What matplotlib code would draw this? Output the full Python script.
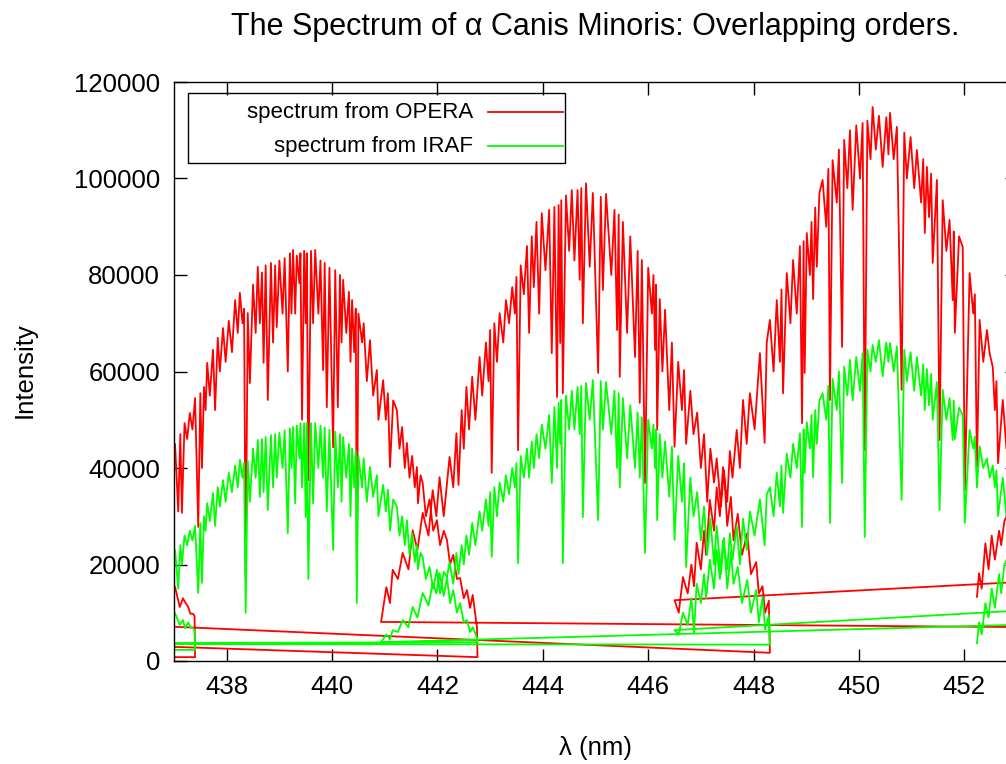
import numpy as np
import matplotlib
matplotlib.use('Agg')
import matplotlib.pyplot as plt
from matplotlib.patches import Rectangle
from matplotlib.lines import Line2D

plt.rcParams['font.family'] = ['Liberation Sans', 'DejaVu Sans']

# Echelle orders of alpha CMi, one row per sample:
#   wavelength (nm), OPERA intensity, IRAF intensity
# rows alternate continuum tops and absorption line cores.
# Orders are listed in file order (red to blue), so the plot joins
# the end of one order to the start of the next one.
order5 = np.array([
    (452.24, 13300, 3700), (452.28, 18200, 8000), (452.33, 15000, 5500),
    (452.40, 24400, 12000), (452.46, 19000, 9000), (452.52, 26000, 15000),
    (452.58, 21000, 11000), (452.66, 27000, 18000), (452.70, 24000, 14000),
    (452.76, 29000, 20000), (452.85, 31000, 22000), (453.60, 16700, 10800),
])

order4 = np.array([
    (446.50, 12600, 6400), (446.58, 10000, 5500), (446.66, 17400, 10000),
    (446.75, 14000, 7500), (446.82, 20000, 13000), (446.87, 15500, 6000),
    (446.92, 24500, 16000), (447.00, 19000, 12000), (447.06, 27000, 18000),
    (447.10, 22000, 13000), (447.17, 33400, 21000), (447.25, 27000, 15000),
    (447.30, 36000, 23000), (447.36, 30000, 17000), (447.42, 40200, 25000),
    (447.50, 33000, 19000), (447.55, 43500, 26500), (447.60, 38000, 21000),
    (447.68, 47900, 28000), (447.74, 40000, 20000), (447.80, 54100, 29500),
    (447.87, 45000, 23000), (447.93, 55500, 31000), (448.02, 48000, 26000),
    (448.12, 63800, 33500), (448.21, 45200, 24000), (448.25, 66000, 34500),
    (448.31, 70700, 36000), (448.38, 60000, 30000), (448.44, 74800, 39000),
    (448.50, 62000, 32000), (448.53, 77000, 40500), (448.56, 55500, 30700),
    (448.63, 80400, 43000), (448.70, 70000, 38000), (448.75, 83100, 45000),
    (448.82, 72000, 40000), (448.88, 86000, 47200), (448.92, 49300, 27800),
    (448.95, 87000, 48000), (448.97, 59700, 39000), (449.01, 88700, 49500),
    (449.07, 80000, 44000), (449.10, 91000, 51000), (449.13, 75000, 38100),
    (449.17, 94000, 52000), (449.20, 81700, 45000), (449.25, 97000, 54000),
    (449.31, 99700, 55500), (449.38, 90000, 50000), (449.42, 102000, 57000),
    (449.45, 54100, 28600), (449.50, 103800, 58500), (449.58, 95000, 52000),
    (449.62, 106000, 60000), (449.68, 65100, 36900), (449.72, 108000, 61000),
    (449.78, 98000, 55000), (449.83, 110000, 62400), (449.88, 93500, 54000),
    (449.95, 111000, 63000), (450.02, 100000, 56000), (450.07, 111500, 63800),
    (450.11, 43700, 25700), (450.16, 112000, 64500), (450.22, 104000, 60000),
    (450.26, 114800, 65500), (450.32, 106000, 62000), (450.38, 113000, 66500),
    (450.45, 102400, 59000), (450.52, 112700, 66000), (450.56, 105000, 62000),
    (450.59, 113600, 65900), (450.66, 104000, 60000), (450.72, 110700, 65200),
    (450.81, 56200, 33400), (450.86, 109500, 64500), (450.91, 100000, 58000),
    (450.98, 108600, 64000), (451.05, 98000, 56000), (451.10, 105900, 63000),
    (451.18, 95000, 55000), (451.22, 104000, 61500), (451.25, 88700, 52000),
    (451.29, 102400, 60500), (451.33, 92000, 53000), (451.37, 101000, 59500),
    (451.40, 82500, 50000), (451.48, 99700, 57800), (451.53, 45800, 31300),
    (451.59, 95500, 56200), (451.66, 85000, 50000), (451.72, 91400, 54500),
    (451.78, 74800, 45800), (451.80, 89000, 54000), (451.82, 68000, 46000),
    (451.90, 88000, 52500), (451.97, 85800, 51000), (452.01, 35400, 28600),
    (452.10, 80400, 47900), (452.17, 72000, 44000), (452.20, 76000, 46500),
    (452.24, 40200, 36000), (452.29, 70700, 44500), (452.36, 62000, 40000),
    (452.43, 68600, 42000), (452.48, 63800, 38000), (452.54, 60900, 40500),
    (452.58, 52000, 36000), (452.61, 58000, 39500), (452.64, 41000, 30000),
    (452.73, 54100, 38000), (452.80, 44000, 30000), (452.90, 46000, 34000),
    (452.95, 35000, 25000), (453.05, 36000, 28000), (453.12, 22000, 15000),
    (453.20, 20000, 18000), (453.30, 7000, 7600),
])

order3 = np.array([
    (440.93, 8100, 3900), (441.03, 15300, 5500), (441.10, 12000, 4500),
    (441.15, 18900, 6400), (441.25, 17000, 6000), (441.34, 22400, 8500),
    (441.45, 19000, 7000), (441.53, 27100, 11200), (441.62, 23000, 9000),
    (441.72, 30700, 14100), (441.83, 26000, 11500), (441.91, 35400, 16200),
    (441.98, 30000, 14000), (442.04, 38100, 18200), (442.12, 30000, 13500),
    (442.23, 42300, 20500), (442.30, 36000, 16000), (442.36, 47200, 22400),
    (442.40, 36500, 18000), (442.46, 52000, 24000), (442.50, 44000, 20000),
    (442.55, 56800, 26000), (442.60, 48000, 22000), (442.66, 58900, 28600),
    (442.72, 50000, 24000), (442.80, 63000, 31000), (442.85, 55000, 27000),
    (442.92, 66000, 33500), (442.97, 58000, 28000), (443.00, 68600, 35000),
    (443.03, 39000, 21600), (443.08, 70000, 36000), (443.13, 62000, 30000),
    (443.18, 72100, 37000), (443.25, 66000, 33000), (443.30, 74800, 38500),
    (443.36, 70000, 34500), (443.42, 77500, 40000), (443.47, 72000, 36000),
    (443.50, 79600, 41000), (443.53, 43700, 20300), (443.58, 82000, 42500),
    (443.64, 76000, 38000), (443.70, 86000, 44000), (443.74, 68000, 38000),
    (443.79, 88000, 45500), (443.83, 77500, 40000), (443.88, 91000, 47000),
    (443.93, 72000, 42000), (443.98, 92800, 49000), (444.05, 81000, 44000),
    (444.12, 93500, 51000), (444.17, 63800, 36900), (444.22, 94100, 52600),
    (444.27, 54700, 40000), (444.30, 94500, 53500), (444.33, 65900, 45000),
    (444.35, 95500, 54100), (444.38, 55500, 20300), (444.44, 96500, 55000),
    (444.50, 85000, 48000), (444.55, 97600, 56000), (444.60, 83000, 48000),
    (444.66, 97600, 56800), (444.70, 79000, 47000), (444.73, 98000, 57000),
    (444.76, 70000, 29800), (444.82, 99000, 57600), (444.89, 81700, 50000),
    (444.95, 97000, 58200), (445.05, 59700, 29200), (445.10, 96200, 58000),
    (445.14, 76900, 48000), (445.20, 96800, 57800), (445.30, 80000, 47000),
    (445.36, 93500, 56000), (445.41, 68600, 40000), (445.44, 92500, 55500),
    (445.46, 58900, 36000), (445.52, 91000, 54500), (445.60, 68000, 42000),
    (445.66, 88000, 53000), (445.75, 63000, 40000), (445.80, 85000, 51500),
    (445.84, 53500, 38000), (445.88, 83100, 50500), (445.94, 36900, 22400),
    (446.00, 81500, 50000), (446.07, 72000, 44000), (446.10, 80000, 49000),
    (446.13, 64500, 40000), (446.15, 78000, 48000), (446.17, 47900, 29200),
    (446.22, 75000, 47000), (446.27, 60000, 38000), (446.32, 72800, 45500),
    (446.40, 52000, 34000), (446.45, 66000, 44400), (446.50, 44400, 25100),
    (446.57, 62000, 42500), (446.64, 52000, 33000), (446.68, 60300, 41000),
    (446.72, 45000, 19500), (446.80, 56000, 38000), (446.86, 47000, 30000),
    (446.93, 51500, 35000), (447.00, 40000, 25000), (447.06, 47000, 32000),
    (447.12, 33000, 22000), (447.18, 44000, 29500), (447.25, 37000, 20000),
    (447.30, 42000, 28000), (447.38, 32000, 18000), (447.44, 39500, 25500),
    (447.50, 28000, 15000), (447.57, 34000, 22500), (447.62, 25000, 16000),
    (447.70, 30500, 19500), (447.78, 22000, 12000), (447.88, 26500, 16800),
    (447.95, 18000, 10000), (448.05, 20500, 14700), (448.10, 14000, 8000),
    (448.17, 15500, 13300), (448.22, 10000, 6500), (448.29, 12500, 9500),
    (448.31, 1700, 3400),
])

order2 = np.array([
    (436.58, 7300, 3500), (436.80, 30000, 14000), (436.95, 42000, 20000),
    (437.02, 45000, 23000), (437.08, 31000, 15000), (437.12, 47000, 24000),
    (437.15, 30700, 20000), (437.20, 49300, 26000), (437.25, 46000, 24000),
    (437.30, 51400, 27000), (437.35, 48000, 25000), (437.40, 54500, 28000),
    (437.46, 27800, 14100), (437.50, 55500, 28600), (437.53, 40000, 16200),
    (437.57, 56800, 30000), (437.60, 52000, 27000), (437.63, 61800, 32700),
    (437.68, 55000, 29000), (437.74, 64500, 34800), (437.78, 52000, 28000),
    (437.83, 67000, 36000), (437.87, 60000, 32000), (437.93, 69000, 37500),
    (437.98, 62000, 33000), (438.04, 70500, 39000), (438.10, 64000, 35000),
    (438.16, 74800, 40500), (438.21, 68000, 36000), (438.25, 76300, 41700),
    (438.30, 70000, 38000), (438.33, 73000, 41000), (438.36, 17200, 10000),
    (438.40, 72100, 41500), (438.44, 57600, 33000), (438.50, 78000, 44000),
    (438.55, 68000, 38000), (438.59, 81700, 45800), (438.63, 70000, 34000),
    (438.67, 80500, 46000), (438.70, 61800, 35000), (438.74, 82000, 46400),
    (438.78, 54100, 31300), (438.84, 82500, 46800), (438.88, 66000, 36000),
    (438.92, 82000, 47000), (438.95, 69200, 38000), (439.00, 83000, 47300),
    (439.06, 72000, 40000), (439.10, 83500, 47800), (439.16, 60000, 26500),
    (439.20, 84500, 48200), (439.23, 72000, 40000), (439.26, 85200, 48500),
    (439.30, 72000, 32700), (439.33, 84000, 48800), (439.38, 78300, 42000),
    (439.40, 84500, 49300), (439.43, 50000, 36000), (439.47, 85000, 49300),
    (439.50, 70000, 29800), (439.52, 84500, 49300), (439.55, 37500, 17000),
    (439.60, 85000, 49300), (439.64, 70000, 32700), (439.68, 85200, 49300),
    (439.74, 72000, 40000), (439.78, 83000, 48800), (439.83, 60300, 38000),
    (439.86, 82500, 48400), (439.90, 52600, 31000), (439.95, 81500, 47900),
    (440.02, 44300, 23000), (440.06, 81000, 47500), (440.11, 52600, 36000),
    (440.15, 80000, 47000), (440.18, 66000, 33000), (440.21, 79000, 46400),
    (440.27, 68000, 38000), (440.32, 76500, 45000), (440.35, 62000, 30000),
    (440.38, 74800, 44000), (440.42, 64000, 36000), (440.45, 73000, 43500),
    (440.47, 17400, 12000), (440.50, 72000, 42500), (440.57, 66000, 36000),
    (440.60, 70000, 42000), (440.66, 58000, 33000), (440.72, 66500, 40200),
    (440.78, 55000, 34000), (440.85, 60300, 38500), (440.88, 50000, 30000),
    (440.97, 58200, 36500), (441.02, 50000, 31000), (441.06, 55500, 35500),
    (441.10, 40200, 27000), (441.16, 54000, 33500), (441.23, 52000, 32000),
    (441.28, 44000, 26000), (441.33, 48500, 30000), (441.38, 40000, 24000),
    (441.42, 45200, 29200), (441.47, 38000, 22000), (441.52, 42500, 26500),
    (441.57, 36000, 20500), (441.61, 40200, 24000), (441.63, 32700, 19000),
    (441.68, 38500, 22400), (441.72, 36900, 21500), (441.78, 30000, 17000),
    (441.85, 33500, 19500), (441.92, 27000, 15000), (441.99, 29200, 18900),
    (442.05, 24000, 14000), (442.12, 27000, 18500), (442.18, 25100, 17400),
    (442.24, 20000, 12000), (442.30, 22000, 14700), (442.37, 17000, 10000),
    (442.43, 17200, 12000), (442.50, 13000, 8000), (442.56, 14700, 8500),
    (442.62, 11000, 6000), (442.67, 13700, 7000), (442.75, 7000, 4800),
    (442.76, 800, 3900),
])

order1 = np.array([
    (436.00, 3300, 3700), (436.50, 25000, 14000), (436.80, 19000, 11500),
    (437.02, 15300, 9900), (437.11, 11200, 7500), (437.17, 13000, 8500),
    (437.21, 12200, 6800), (437.27, 11200, 8000), (437.31, 9800, 7000),
    (437.36, 9800, 6800), (437.39, 9300, 6400), (437.40, 800, 2300),
])

order0 = np.array([
    (436.00, 800, 2300),
])

spectrum = np.vstack([order5, order4, order3, order2, order1, order0])
wavelength = spectrum[:, 0]
opera = spectrum[:, 1]
iraf = spectrum[:, 2]

fig = plt.figure(figsize=(10.06, 7.64), dpi=100)
ax = fig.add_axes([174 / 1006, 103 / 764, 843 / 1006, 579 / 764])

ax.plot(wavelength, opera, color='#ff0000', lw=1.3)
ax.plot(wavelength, iraf, color='#00ff00', lw=1.3)

ax.set_xlim(437, 453)
ax.set_ylim(0, 120000)
ax.set_xticks(np.arange(438, 453, 2))
ax.set_yticks(np.arange(0, 120001, 20000))
ax.tick_params(direction='in', length=9, width=1, top=True, right=True,
               labelsize=18.5, pad=10)
for s in ax.spines.values():
    s.set_linewidth(1.0)

# axis titles placed in figure pixels, centred like gnuplot does
fig.text(595.5 / 1006, 1 - 748 / 764, 'λ (nm)', ha='center', va='center',
         fontsize=18.5)
fig.text(25 / 1006, 1 - 370 / 764, 'Intensity', ha='center', va='center',
         rotation=90, fontsize=18.5)
fig.text(595.5 / 1006, 1 - 27 / 764, 'The Spectrum of α Canis Minoris: Overlapping orders.',
         ha='center', va='center', fontsize=22)

# gnuplot style key: boxed, labels right aligned, sample line on the right
ax.add_patch(Rectangle((0.0166, 0.860), 0.4472, 0.121, transform=ax.transAxes,
                       fill=False, edgecolor='black', lw=1.0, zorder=5))
for yk, label, col in [(0.948, 'spectrum from OPERA', '#ff0000'),
                       (0.889, 'spectrum from IRAF', '#00ff00')]:
    ax.text(0.3547, yk, label, transform=ax.transAxes, ha='right', va='center',
            fontsize=16, zorder=6)
    ax.add_line(Line2D([0.3725, 0.4614], [yk, yk], transform=ax.transAxes,
                       color=col, lw=1.3, zorder=6))

fig.savefig('out.png', dpi=100)
